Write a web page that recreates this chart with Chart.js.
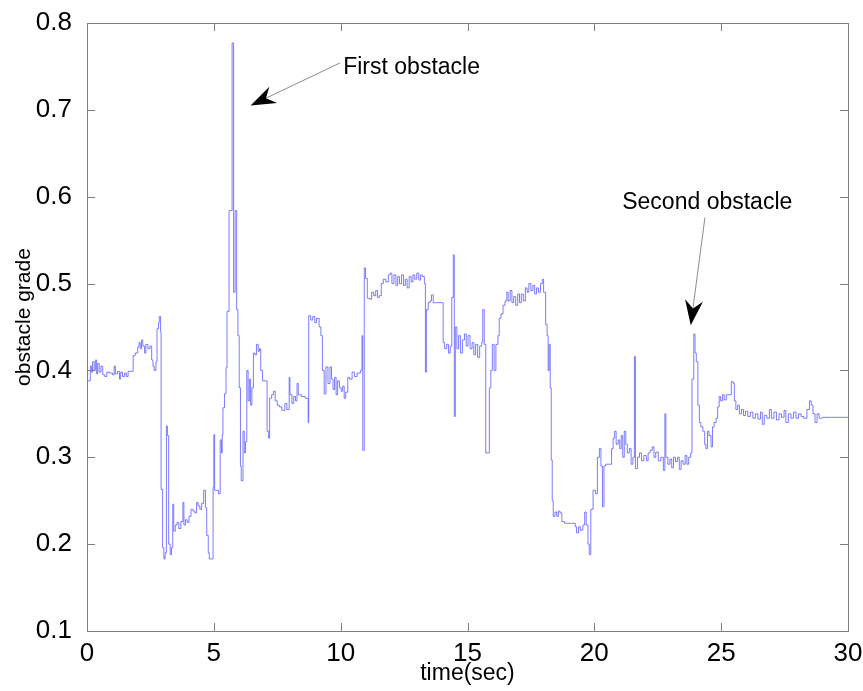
<!DOCTYPE html>
<html>
<head>
<meta charset="utf-8">
<script src="https://cdn.jsdelivr.net/npm/chart.js@4"></script>
<style>
  html, body { margin: 0; padding: 0; background: #fff; }
  #wrap { width: 863px; height: 691px; }
</style>
</head>
<body>
<div id="wrap"><canvas id="gradeChart"></canvas></div>
<script>
// sample times (sec) and obstacle grade, read as a step signal
const times = [
    0.00, 0.13, 0.18, 0.22, 0.28, 0.33, 0.38, 0.42, 0.48, 0.55, 0.62, 0.70, 0.78, 0.88, 1.00, 1.07, 1.12, 1.20, 1.28, 1.33,
    1.40, 1.48, 1.55, 1.62, 1.78, 1.82, 1.90, 2.00, 2.05, 2.10, 2.15, 2.20, 2.27, 2.32, 2.40, 2.48, 2.55, 2.60, 2.65, 2.72,
    2.76, 2.82, 2.85, 2.90, 2.92, 2.98, 3.03, 3.08, 3.13, 3.17, 3.22, 3.28, 3.33, 3.38, 3.42, 3.48, 3.55, 3.62, 3.70, 3.78,
    3.82, 3.88, 3.95, 4.02, 4.10, 4.18, 4.25, 4.32, 4.38, 4.45, 4.52, 4.60, 4.67, 4.72, 4.78, 4.82, 4.93, 4.97, 5.00, 5.03,
    5.18, 5.25, 5.30, 5.33, 5.36, 5.42, 5.48, 5.52, 5.60, 5.72, 5.78, 5.84, 5.90, 5.95, 6.00, 6.05, 6.08, 6.15, 6.20, 6.25,
    6.30, 6.35, 6.40, 6.45, 6.50, 6.56, 6.62, 6.68, 6.75, 6.80, 6.85, 6.92, 7.08, 7.10, 7.16, 7.20, 7.28, 7.35, 7.42, 7.50,
    7.58, 7.68, 7.80, 7.88, 7.97, 8.00, 8.08, 8.15, 8.22, 8.28, 8.33, 8.45, 8.60, 8.72, 8.74, 8.82, 8.90, 8.98, 9.05, 9.15,
    9.22, 9.28, 9.35, 9.42, 9.50, 9.58, 9.64, 9.70, 9.76, 9.82, 9.88, 9.95, 10.02, 10.08, 10.14, 10.20, 10.28, 10.35, 10.45, 10.55,
    10.65, 10.78, 10.84, 10.87, 10.93, 10.98, 11.05, 11.15, 11.22, 11.30, 11.38, 11.45, 11.52, 11.60, 11.68, 11.78, 11.88, 11.95, 12.02, 12.10,
    12.18, 12.25, 12.32, 12.40, 12.48, 12.55, 12.62, 12.70, 12.78, 12.85, 12.92, 13.00, 13.08, 13.15, 13.22, 13.30, 13.34, 13.38, 13.45, 13.52,
    13.58, 13.65, 13.80, 13.98, 14.04, 14.10, 14.18, 14.25, 14.32, 14.38, 14.44, 14.48, 14.52, 14.58, 14.65, 14.72, 14.80, 14.88, 14.95, 15.02,
    15.10, 15.18, 15.25, 15.32, 15.40, 15.48, 15.56, 15.60, 15.66, 15.72, 15.82, 15.86, 15.92, 15.98, 16.05, 16.12, 16.20, 16.25, 16.32, 16.40,
    16.48, 16.55, 16.60, 16.68, 16.75, 16.82, 16.90, 16.98, 17.05, 17.12, 17.20, 17.28, 17.35, 17.42, 17.50, 17.58, 17.65, 17.72, 17.80, 17.88,
    17.95, 18.00, 18.08, 18.14, 18.18, 18.22, 18.26, 18.30, 18.34, 18.38, 18.45, 18.52, 18.58, 18.65, 18.72, 18.82, 18.95, 19.10, 19.25, 19.30,
    19.38, 19.45, 19.55, 19.62, 19.68, 19.75, 19.80, 19.86, 19.95, 20.05, 20.12, 20.20, 20.26, 20.32, 20.38, 20.45, 20.60, 20.68, 20.74, 20.80,
    20.86, 20.94, 21.00, 21.06, 21.12, 21.18, 21.24, 21.30, 21.38, 21.45, 21.52, 21.58, 21.62, 21.70, 21.78, 21.86, 21.95, 22.05, 22.12, 22.20,
    22.28, 22.35, 22.42, 22.52, 22.62, 22.72, 22.78, 22.82, 22.90, 22.98, 23.05, 23.12, 23.20, 23.28, 23.35, 23.42, 23.50, 23.58, 23.65, 23.72,
    23.80, 23.85, 23.92, 23.97, 24.02, 24.08, 24.14, 24.20, 24.28, 24.35, 24.40, 24.46, 24.52, 24.60, 24.66, 24.72, 24.80, 24.86, 24.92, 24.98,
    25.05, 25.12, 25.20, 25.30, 25.40, 25.48, 25.52, 25.58, 25.65, 25.72, 25.80, 25.88, 25.96, 26.05, 26.15, 26.25, 26.35, 26.45, 26.55, 26.62,
    26.70, 26.80, 26.90, 26.98, 27.08, 27.18, 27.28, 27.38, 27.48, 27.55, 27.65, 27.75, 27.85, 27.95, 28.05, 28.15, 28.25, 28.38, 28.48, 28.55,
    28.62, 28.70, 28.78, 28.86, 29.00, 30.00
];

const grade = [
    0.388, 0.405, 0.398, 0.410, 0.400, 0.412, 0.396, 0.408, 0.398, 0.405, 0.395, 0.393, 0.398, 0.397, 0.395, 0.405, 0.396, 0.399, 0.390, 0.398,
    0.393, 0.397, 0.393, 0.399, 0.399, 0.417, 0.420, 0.427, 0.432, 0.425, 0.435, 0.428, 0.420, 0.430, 0.425, 0.428, 0.412, 0.405, 0.400, 0.410,
    0.448, 0.455, 0.462, 0.445, 0.263, 0.196, 0.183, 0.190, 0.336, 0.325, 0.200, 0.188, 0.196, 0.246, 0.215, 0.222, 0.225, 0.218, 0.226, 0.248,
    0.222, 0.228, 0.225, 0.232, 0.240, 0.238, 0.236, 0.248, 0.244, 0.240, 0.247, 0.262, 0.242, 0.210, 0.190, 0.183, 0.183, 0.265, 0.326, 0.262,
    0.258, 0.320, 0.305, 0.326, 0.357, 0.373, 0.403, 0.468, 0.584, 0.777, 0.490, 0.584, 0.470, 0.440, 0.380, 0.290, 0.273, 0.330, 0.305, 0.318,
    0.400, 0.365, 0.390, 0.360, 0.380, 0.420, 0.418, 0.430, 0.422, 0.425, 0.400, 0.388, 0.388, 0.330, 0.322, 0.368, 0.372, 0.376, 0.365, 0.360,
    0.358, 0.354, 0.362, 0.355, 0.392, 0.372, 0.362, 0.370, 0.365, 0.385, 0.372, 0.370, 0.368, 0.340, 0.463, 0.458, 0.462, 0.455, 0.460, 0.450,
    0.440, 0.400, 0.373, 0.404, 0.385, 0.404, 0.390, 0.378, 0.392, 0.372, 0.388, 0.380, 0.376, 0.382, 0.368, 0.375, 0.392, 0.390, 0.398, 0.393,
    0.397, 0.400, 0.440, 0.308, 0.518, 0.506, 0.483, 0.482, 0.490, 0.486, 0.492, 0.484, 0.486, 0.500, 0.505, 0.502, 0.510, 0.512, 0.500, 0.510,
    0.498, 0.508, 0.500, 0.510, 0.498, 0.505, 0.495, 0.508, 0.502, 0.510, 0.505, 0.512, 0.504, 0.510, 0.508, 0.500, 0.398, 0.470, 0.478, 0.480,
    0.487, 0.478, 0.478, 0.478, 0.432, 0.425, 0.430, 0.420, 0.428, 0.484, 0.533, 0.347, 0.450, 0.425, 0.440, 0.420, 0.435, 0.442, 0.428, 0.440,
    0.425, 0.432, 0.418, 0.430, 0.415, 0.428, 0.432, 0.470, 0.430, 0.305, 0.305, 0.380, 0.400, 0.430, 0.400, 0.430, 0.440, 0.460, 0.465, 0.475,
    0.480, 0.490, 0.480, 0.492, 0.478, 0.485, 0.475, 0.488, 0.478, 0.488, 0.480, 0.495, 0.490, 0.500, 0.492, 0.498, 0.488, 0.495, 0.490, 0.500,
    0.505, 0.490, 0.453, 0.440, 0.400, 0.430, 0.380, 0.297, 0.250, 0.232, 0.237, 0.232, 0.238, 0.236, 0.226, 0.224, 0.224, 0.224, 0.220, 0.213,
    0.220, 0.216, 0.222, 0.237, 0.222, 0.200, 0.188, 0.240, 0.262, 0.258, 0.300, 0.310, 0.290, 0.243, 0.290, 0.292, 0.292, 0.310, 0.322, 0.330,
    0.315, 0.320, 0.310, 0.325, 0.300, 0.330, 0.315, 0.305, 0.310, 0.292, 0.300, 0.416, 0.287, 0.300, 0.305, 0.296, 0.302, 0.296, 0.305, 0.308,
    0.312, 0.300, 0.306, 0.296, 0.300, 0.285, 0.350, 0.300, 0.292, 0.298, 0.288, 0.300, 0.295, 0.300, 0.286, 0.296, 0.292, 0.302, 0.292, 0.300,
    0.305, 0.390, 0.442, 0.420, 0.410, 0.360, 0.340, 0.335, 0.330, 0.315, 0.310, 0.330, 0.325, 0.312, 0.335, 0.340, 0.345, 0.358, 0.370, 0.365,
    0.372, 0.366, 0.372, 0.372, 0.387, 0.385, 0.365, 0.355, 0.360, 0.350, 0.355, 0.348, 0.353, 0.347, 0.352, 0.345, 0.350, 0.344, 0.352, 0.338,
    0.348, 0.345, 0.355, 0.345, 0.352, 0.343, 0.350, 0.346, 0.354, 0.340, 0.350, 0.345, 0.352, 0.345, 0.350, 0.347, 0.345, 0.355, 0.365, 0.360,
    0.350, 0.340, 0.350, 0.345, 0.346, 0.346
];

const xTicks = [0, 5, 10, 15, 20, 25, 30];
const yTicks = [0.1, 0.2, 0.3, 0.4, 0.5, 0.6, 0.7, 0.8];

// text labels with arrows: [label, text x, text y, arrow tail x, tail y, tip x, tip y] in data units
const notes = [
    ['First obstacle', 10.1, 0.749, 9.97, 0.754, 6.45, 0.705],
    ['Second obstacle', 21.1, 0.593, 24.36, 0.576, 23.8, 0.452]
];

const FONT = 'Arial, "Liberation Sans", Helvetica, sans-serif';

const points = times.map((t, i) => ({ x: t, y: grade[i] }));

// box round the plot area with inward tick marks on all four sides
const boxPlugin = {
    id: 'boxPlugin',
    afterDatasetsDraw(chart) {
        const { ctx, chartArea: a, scales } = chart;
        ctx.save();
        ctx.strokeStyle = '#7f7f7f';
        ctx.lineWidth = 1;
        ctx.strokeRect(Math.round(a.left) + 0.5, Math.round(a.top) + 0.5,
            Math.round(a.right - a.left), Math.round(a.bottom - a.top));
        const len = 8;
        ctx.beginPath();
        xTicks.forEach(v => {
            const px = Math.round(scales.x.getPixelForValue(v)) + 0.5;
            ctx.moveTo(px, a.bottom); ctx.lineTo(px, a.bottom - len);
            ctx.moveTo(px, a.top); ctx.lineTo(px, a.top + len);
        });
        yTicks.forEach(v => {
            const py = Math.round(scales.y.getPixelForValue(v)) + 0.5;
            ctx.moveTo(a.left, py); ctx.lineTo(a.left + len, py);
            ctx.moveTo(a.right, py); ctx.lineTo(a.right - len, py);
        });
        ctx.stroke();

        // y axis title, sitting a little above the middle of the axis
        ctx.fillStyle = '#000';
        ctx.font = '21px ' + FONT;
        ctx.textAlign = 'center';
        ctx.textBaseline = 'middle';
        ctx.translate(24, (a.top + a.bottom) / 2 - 10);
        ctx.rotate(-Math.PI / 2);
        ctx.fillText('obstacle grade', 0, 0);
        ctx.restore();
    }
};

// annotation arrows with filled black heads
const notePlugin = {
    id: 'notePlugin',
    afterDraw(chart) {
        const { ctx, scales } = chart;
        const X = v => scales.x.getPixelForValue(v);
        const Y = v => scales.y.getPixelForValue(v);
        ctx.save();
        notes.forEach(([label, tx, ty, ax, ay, bx, by]) => {
            const x0 = X(ax), y0 = Y(ay), x1 = X(bx), y1 = Y(by);
            const dx = x1 - x0, dy = y1 - y0;
            const d = Math.hypot(dx, dy);
            const ux = dx / d, uy = dy / d;
            const nx = -uy, ny = ux;
            const L = 25, W = 9, N = 17;
            ctx.strokeStyle = '#8c8c8c';
            ctx.lineWidth = 1;
            ctx.beginPath();
            ctx.moveTo(x0, y0);
            ctx.lineTo(x1 - ux * N, y1 - uy * N);
            ctx.stroke();
            ctx.fillStyle = '#000';
            ctx.beginPath();
            ctx.moveTo(x1, y1);
            ctx.lineTo(x1 - ux * L + nx * W, y1 - uy * L + ny * W);
            ctx.lineTo(x1 - ux * N, y1 - uy * N);
            ctx.lineTo(x1 - ux * L - nx * W, y1 - uy * L - ny * W);
            ctx.closePath();
            ctx.fill();
            ctx.font = '23px ' + FONT;
            ctx.textAlign = 'left';
            ctx.textBaseline = 'middle';
            ctx.fillText(label, X(tx), Y(ty));
        });
        ctx.restore();
    }
};

new Chart(document.getElementById('gradeChart'), {
    type: 'line',
    data: {
        datasets: [{
            data: points,
            borderColor: 'rgba(80, 80, 255, 0.75)',
            borderWidth: 1,
            stepped: true,
            pointRadius: 0,
            fill: false
        }]
    },
    options: {
        responsive: true,
        maintainAspectRatio: false,
        animation: false,
        layout: { padding: { left: 0, top: 23, right: 15, bottom: 0 } },
        plugins: { legend: { display: false }, tooltip: { enabled: false } },
        scales: {
            x: {
                type: 'linear',
                min: 0,
                max: 30,
                afterBuildTicks: s => { s.ticks = xTicks.map(v => ({ value: v })); },
                afterFit: s => { s.height = 60; },
                grid: { display: false },
                border: { display: false },
                ticks: { color: '#000', padding: -1, maxRotation: 0, font: { family: FONT, size: 26 } },
                title: { display: true, text: 'time(sec)', color: '#000', padding: { top: 4, bottom: 4 }, font: { family: FONT, size: 23 } }
            },
            y: {
                min: 0.1,
                max: 0.8,
                afterBuildTicks: s => { s.ticks = yTicks.map(v => ({ value: v })); },
                afterFit: s => { s.width = 87; },
                grid: { display: false },
                border: { display: false },
                ticks: { color: '#000', padding: 7, callback: v => v.toFixed(1), font: { family: FONT, size: 26 } },
                title: { display: false }
            }
        }
    },
    plugins: [boxPlugin, notePlugin]
});
</script>
</body>
</html>
